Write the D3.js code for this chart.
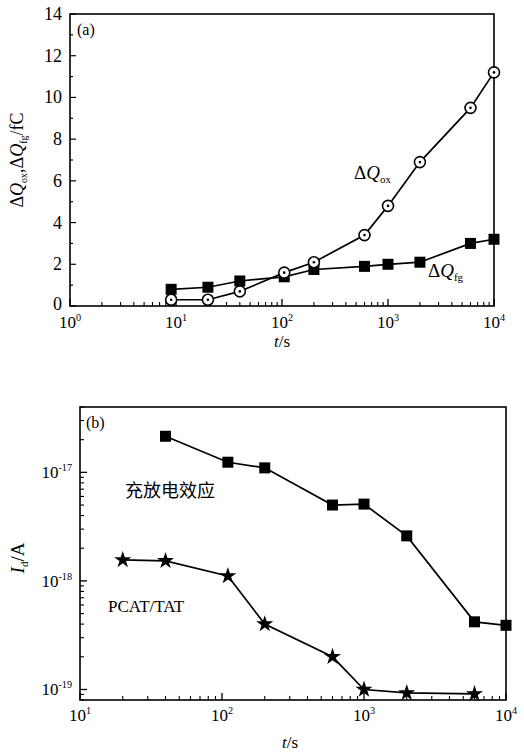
<!DOCTYPE html>
<html>
<head>
<meta charset="utf-8">
<script src="https://cdn.jsdelivr.net/npm/d3@7"></script>
<style>
  body { margin: 0; background: #fff; }
  svg text { font-family: "Liberation Serif", "DejaVu Serif", serif; fill: #000; }
</style>
</head>
<body>
<svg id="chart" width="524" height="753"></svg>
<script>
// panel (a): charge vs time
var timeA = [9, 20, 40, 105, 200, 600, 1000, 2000, 6000, 10000];
var dQox  = [0.3, 0.3, 0.7, 1.6, 2.1, 3.4, 4.8, 6.9, 9.5, 11.2];
var dQfg  = [0.8, 0.9, 1.2, 1.4, 1.75, 1.9, 2.0, 2.1, 3.0, 3.2];

// panel (b): current vs time
var timeSq   = [40, 110, 200, 600, 1000, 2000, 6000, 10000];
var idCharge = [2.15e-17, 1.24e-17, 1.1e-17, 5.0e-18, 5.1e-18, 2.6e-18, 4.2e-19, 3.9e-19];
var timeSt   = [20, 40, 110, 200, 600, 1000, 2000, 6000];
var idTat    = [1.56e-18, 1.53e-18, 1.11e-18, 4.0e-19, 2.0e-19, 1.0e-19, 9.3e-20, 9.1e-20];

var yTicksA = [0, 2, 4, 6, 8, 10, 12, 14];
var xTicksA = [0, 1, 2, 3, 4];   // exponents
var xTicksB = [1, 2, 3, 4];
var yTicksB = [-19, -18, -17];

var svg = d3.select("#chart");

function supLabel(g, x, y, base, exp, size, anchor) {
  var t = g.append("text").attr("x", x).attr("y", y)
    .attr("text-anchor", anchor || "middle").style("font-size", size + "px");
  t.append("tspan").text(base);
  t.append("tspan").attr("dy", -size * 0.42).style("font-size", (size * 0.6) + "px").text(exp);
  return t;
}

function logMinor(lo, hi) {
  var out = [];
  for (var e = lo; e < hi; e++)
    for (var k = 2; k <= 9; k++) out.push(k * Math.pow(10, e));
  return out;
}

// ---------- panel (a) ----------
var xA = d3.scaleLog().domain([1, 1e4]).range([70, 494]);
var yA = d3.scaleLinear().domain([0, 14]).range([306, 14]);
var gA = svg.append("g");

gA.append("rect").attr("x", 70).attr("y", 14).attr("width", 424).attr("height", 292)
  .attr("fill", "none").attr("stroke", "#000").attr("stroke-width", 1.6);

// bottom ticks inward
xTicksA.forEach(function(e) {
  var v = Math.pow(10, e);
  gA.append("line").attr("x1", xA(v)).attr("x2", xA(v)).attr("y1", 306).attr("y2", 299)
    .attr("stroke", "#000").attr("stroke-width", 1.3);
  supLabel(gA, xA(v), 328, "10", e, 17);
});
logMinor(0, 4).forEach(function(v) {
  gA.append("line").attr("x1", xA(v)).attr("x2", xA(v)).attr("y1", 306).attr("y2", 302)
    .attr("stroke", "#000").attr("stroke-width", 1.1);
});
// left ticks
d3.range(0, 15, 1).forEach(function(v) {
  var major = v % 2 === 0;
  gA.append("line").attr("x1", 70).attr("x2", 70 + (major ? 6 : 3)).attr("y1", yA(v)).attr("y2", yA(v))
    .attr("stroke", "#000").attr("stroke-width", 1.2);
});
yTicksA.forEach(function(v) {
  gA.append("text").attr("x", 62).attr("y", yA(v) + (v === 0 ? 4 : 6)).attr("text-anchor", "end")
    .style("font-size", "18px").text(v);
});

var lineA = d3.line().x(function(d) { return xA(d[0]); }).y(function(d) { return yA(d[1]); });
var ox = timeA.map(function(t, i) { return [t, dQox[i]]; });
var fg = timeA.map(function(t, i) { return [t, dQfg[i]]; });
gA.append("path").attr("d", lineA(fg)).attr("fill", "none").attr("stroke", "#000").attr("stroke-width", 1.7);
gA.append("path").attr("d", lineA(ox)).attr("fill", "none").attr("stroke", "#000").attr("stroke-width", 1.7);
gA.selectAll("rect.fg").data(fg).join("rect").attr("class", "fg")
  .attr("x", function(d) { return xA(d[0]) - 5.5; }).attr("y", function(d) { return yA(d[1]) - 5.5; })
  .attr("width", 11).attr("height", 11).attr("fill", "#000");
gA.selectAll("circle.ox").data(ox).join("circle").attr("class", "ox")
  .attr("cx", function(d) { return xA(d[0]); }).attr("cy", function(d) { return yA(d[1]); })
  .attr("r", 5.5).attr("fill", "#fff").attr("stroke", "#000").attr("stroke-width", 1.6);
gA.selectAll("circle.oxd").data(ox).join("circle").attr("class", "oxd")
  .attr("cx", function(d) { return xA(d[0]); }).attr("cy", function(d) { return yA(d[1]); })
  .attr("r", 1.3).attr("fill", "#000");

gA.append("text").attr("x", 77).attr("y", 35).style("font-size", "16px").text("(a)");

var oxLab = gA.append("text").attr("x", 354).attr("y", 179).style("font-size", "19px");
oxLab.append("tspan").text("Δ");
oxLab.append("tspan").style("font-style", "italic").text("Q");
oxLab.append("tspan").attr("dy", 4).style("font-size", "11px").text("ox");

var fgLab = gA.append("text").attr("x", 428).attr("y", 277).style("font-size", "19px");
fgLab.append("tspan").text("Δ");
fgLab.append("tspan").style("font-style", "italic").text("Q");
fgLab.append("tspan").attr("dy", 4).style("font-size", "11px").text("fg");

var yLabA = gA.append("text").attr("transform", "translate(23,160) rotate(-90)")
  .attr("text-anchor", "middle").style("font-size", "18px");
yLabA.append("tspan").text("Δ");
yLabA.append("tspan").style("font-style", "italic").text("Q");
yLabA.append("tspan").attr("dy", 4).style("font-size", "10px").text("ox");
yLabA.append("tspan").attr("dy", -4).text(",Δ");
yLabA.append("tspan").style("font-style", "italic").text("Q");
yLabA.append("tspan").attr("dy", 4).style("font-size", "10px").text("fg");
yLabA.append("tspan").attr("dy", -4).text("/fC");

var xLabA = gA.append("text").attr("x", 282).attr("y", 347).attr("text-anchor", "middle").style("font-size", "17px");
xLabA.append("tspan").style("font-style", "italic").text("t");
xLabA.append("tspan").text("/s");

// ---------- panel (b) ----------
var xB = d3.scaleLog().domain([10, 1e4]).range([80, 506]);
var yB = d3.scaleLog().domain([8e-20, 4e-17]).range([700, 407]);
var gB = svg.append("g");

gB.append("rect").attr("x", 80).attr("y", 407).attr("width", 426).attr("height", 293)
  .attr("fill", "none").attr("stroke", "#000").attr("stroke-width", 1.6);

xTicksB.forEach(function(e) {
  var v = Math.pow(10, e);
  gB.append("line").attr("x1", xB(v)).attr("x2", xB(v)).attr("y1", 700).attr("y2", 693)
    .attr("stroke", "#000").attr("stroke-width", 1.3);
  supLabel(gB, xB(v), 721, "10", e, 17);
});
logMinor(1, 4).forEach(function(v) {
  gB.append("line").attr("x1", xB(v)).attr("x2", xB(v)).attr("y1", 700).attr("y2", 696)
    .attr("stroke", "#000").attr("stroke-width", 1.1);
});
yTicksB.forEach(function(e) {
  var v = Math.pow(10, e);
  gB.append("line").attr("x1", 80).attr("x2", 87).attr("y1", yB(v)).attr("y2", yB(v))
    .attr("stroke", "#000").attr("stroke-width", 1.3);
  supLabel(gB, 72, yB(v) + 6, "10", e, 17, "end");
});
logMinor(-20, -16).filter(function(v) { return v >= 8e-20 && v <= 4e-17; }).forEach(function(v) {
  gB.append("line").attr("x1", 80).attr("x2", 84).attr("y1", yB(v)).attr("y2", yB(v))
    .attr("stroke", "#000").attr("stroke-width", 1.1);
});

var lineB = d3.line().x(function(d) { return xB(d[0]); }).y(function(d) { return yB(d[1]); });
var sq = timeSq.map(function(t, i) { return [t, idCharge[i]]; });
var st = timeSt.map(function(t, i) { return [t, idTat[i]]; });
gB.append("path").attr("d", lineB(sq)).attr("fill", "none").attr("stroke", "#000").attr("stroke-width", 1.7);
gB.append("path").attr("d", lineB(st)).attr("fill", "none").attr("stroke", "#000").attr("stroke-width", 1.7);
gB.selectAll("rect.sq").data(sq).join("rect").attr("class", "sq")
  .attr("x", function(d) { return xB(d[0]) - 5.5; }).attr("y", function(d) { return yB(d[1]) - 5.5; })
  .attr("width", 11).attr("height", 11).attr("fill", "#000");
var star = d3.symbol().type(d3.symbolStar).size(90);
gB.selectAll("path.st").data(st).join("path").attr("class", "st")
  .attr("transform", function(d) { return "translate(" + xB(d[0]) + "," + yB(d[1]) + ")"; })
  .attr("d", star).attr("fill", "#000");

gB.append("text").attr("x", 86).attr("y", 428).style("font-size", "16px").text("(b)");
gB.append("text").attr("x", 125).attr("y", 497)
  .style("font-family", "'Noto Sans CJK SC', sans-serif").style("font-size", "18px").text("充放电效应");
gB.append("text").attr("x", 108).attr("y", 612).style("font-size", "17px").text("PCAT/TAT");

var yLabB = gB.append("text").attr("transform", "translate(24,558) rotate(-90)")
  .attr("text-anchor", "middle").style("font-size", "19px");
yLabB.append("tspan").style("font-style", "italic").text("I");
yLabB.append("tspan").attr("dy", 4).style("font-size", "11px").text("d");
yLabB.append("tspan").attr("dy", -4).text("/A");

var xLabB = gB.append("text").attr("x", 290).attr("y", 748).attr("text-anchor", "middle").style("font-size", "17px");
xLabB.append("tspan").style("font-style", "italic").text("t");
xLabB.append("tspan").text("/s");
</script>
</body>
</html>
